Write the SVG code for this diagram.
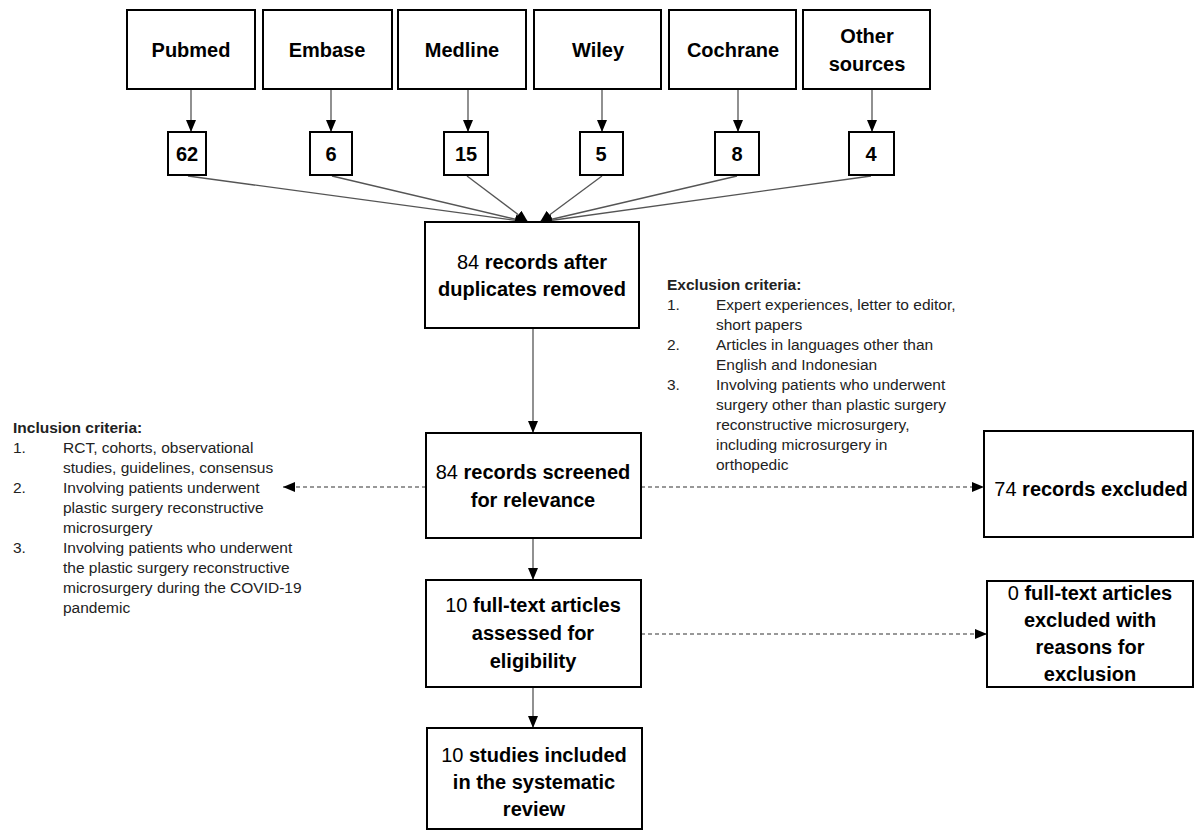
<svg xmlns="http://www.w3.org/2000/svg" width="1197" height="832" viewBox="0 0 1197 832">
<defs>
<style>
.box{fill:#fff;stroke:#000;stroke-width:2}
.t{font-family:"Liberation Sans",Arial,sans-serif;font-size:20px;fill:#000;text-anchor:middle}
.b{font-weight:bold}
.n{font-weight:normal}
.c{font-family:"Liberation Sans",Arial,sans-serif;font-size:15.5px;fill:#222}
.ch{font-weight:bold}
.ln{fill:none;stroke:#555;stroke-width:1.3}
.ds{fill:none;stroke:#333;stroke-width:1.2;stroke-dasharray:4 3}
</style>
<marker id="ah" viewBox="0 0 12 10" refX="12" refY="5" markerWidth="12" markerHeight="10" markerUnits="userSpaceOnUse" orient="auto">
<path d="M0,0 L12,5 L0,10 z" fill="#000"/>
</marker>
</defs>
<rect width="1197" height="832" fill="#fff"/>

<g id="connectors">
<line class="ln" x1="191" y1="89" x2="191" y2="132" marker-end="url(#ah)"/>
<line class="ln" x1="331" y1="89" x2="331" y2="132" marker-end="url(#ah)"/>
<line class="ln" x1="468" y1="89" x2="468" y2="132" marker-end="url(#ah)"/>
<line class="ln" x1="602" y1="89" x2="602" y2="132" marker-end="url(#ah)"/>
<line class="ln" x1="738" y1="89" x2="738" y2="132" marker-end="url(#ah)"/>
<line class="ln" x1="872" y1="89" x2="872" y2="132" marker-end="url(#ah)"/>
<line class="ln" x1="188" y1="176" x2="527" y2="222" marker-end="url(#ah)"/>
<line class="ln" x1="332" y1="176" x2="527" y2="222" marker-end="url(#ah)"/>
<line class="ln" x1="467" y1="176" x2="528" y2="222" marker-end="url(#ah)"/>
<line class="ln" x1="602" y1="176" x2="540" y2="222" marker-end="url(#ah)"/>
<line class="ln" x1="737" y1="176" x2="540" y2="222" marker-end="url(#ah)"/>
<line class="ln" x1="871" y1="176" x2="540" y2="222" marker-end="url(#ah)"/>
<line class="ln" x1="533" y1="328" x2="533" y2="433" marker-end="url(#ah)"/>
<line class="ln" x1="533" y1="538" x2="533" y2="580" marker-end="url(#ah)"/>
<line class="ln" x1="533" y1="687" x2="533" y2="728" marker-end="url(#ah)"/>
<line class="ds" x1="426" y1="487" x2="283" y2="487" marker-end="url(#ah)"/>
<line class="ds" x1="641" y1="487" x2="984" y2="487" marker-end="url(#ah)"/>
<line class="ds" x1="641" y1="634" x2="987" y2="634" marker-end="url(#ah)"/>
</g>

<g id="src-pubmed"><rect class="box" x="127" y="10" width="128" height="79"/><text class="t b" x="191" y="57">Pubmed</text></g>
<g id="src-embase"><rect class="box" x="263" y="10" width="129" height="79"/><text class="t b" x="327" y="57">Embase</text></g>
<g id="src-medline"><rect class="box" x="398" y="10" width="128" height="79"/><text class="t b" x="462" y="57">Medline</text></g>
<g id="src-wiley"><rect class="box" x="534" y="10" width="127" height="79"/><text class="t b" x="598" y="57">Wiley</text></g>
<g id="src-cochrane"><rect class="box" x="669" y="10" width="127" height="79"/><text class="t b" x="733" y="57">Cochrane</text></g>
<g id="src-other"><rect class="box" x="803" y="10" width="127" height="79"/><text class="t b" x="867" y="43">Other</text><text class="t b" x="867" y="71">sources</text></g>

<g id="n-62"><rect class="box" x="168" y="132" width="38" height="43"/><text class="t b" x="187" y="161">62</text></g>
<g id="n-6"><rect class="box" x="310" y="132" width="42" height="43"/><text class="t b" x="331" y="161">6</text></g>
<g id="n-15"><rect class="box" x="444" y="132" width="44" height="43"/><text class="t b" x="466" y="161">15</text></g>
<g id="n-5"><rect class="box" x="580" y="132" width="43" height="43"/><text class="t b" x="601" y="161">5</text></g>
<g id="n-8"><rect class="box" x="715" y="132" width="44" height="43"/><text class="t b" x="737" y="161">8</text></g>
<g id="n-4"><rect class="box" x="849" y="132" width="45" height="43"/><text class="t b" x="871" y="161">4</text></g>

<g id="dedup"><rect class="box" x="425" y="222" width="214" height="106"/>
<text class="t" x="532" y="269"><tspan class="n">84 </tspan><tspan class="b">records after</tspan></text>
<text class="t b" x="532" y="296">duplicates removed</text></g>

<g id="screened"><rect class="box" x="426" y="433" width="215" height="105"/>
<text class="t" x="533" y="479"><tspan class="n">84 </tspan><tspan class="b">records screened</tspan></text>
<text class="t b" x="533" y="507">for relevance</text></g>

<g id="fulltext"><rect class="box" x="426" y="580" width="215" height="107"/>
<text class="t" x="533" y="612"><tspan class="n">10 </tspan><tspan class="b">full-text articles</tspan></text>
<text class="t b" x="533" y="640">assessed for</text>
<text class="t b" x="533" y="668">eligibility</text></g>

<g id="included"><rect class="box" x="427" y="728" width="215" height="101"/>
<text class="t" x="534" y="762"><tspan class="n">10 </tspan><tspan class="b">studies included</tspan></text>
<text class="t b" x="534" y="789">in the systematic</text>
<text class="t b" x="534" y="816">review</text></g>

<g id="excluded-records"><rect class="box" x="984" y="431" width="209" height="106"/>
<text class="t" x="1091" y="496"><tspan class="n">74 </tspan><tspan class="b">records excluded</tspan></text></g>

<g id="excluded-fulltext"><rect class="box" x="987" y="581" width="206" height="106"/>
<text class="t" x="1090" y="600"><tspan class="n">0 </tspan><tspan class="b">full-text articles</tspan></text>
<text class="t b" x="1090" y="627">excluded with</text>
<text class="t b" x="1090" y="654">reasons for</text>
<text class="t b" x="1090" y="681">exclusion</text></g>

<g id="exclusion-criteria">
<text class="c ch" x="667" y="290">Exclusion criteria:</text>
<text class="c" x="667" y="310">1.</text><text class="c" x="716" y="310">Expert experiences, letter to editor,</text>
<text class="c" x="716" y="330">short papers</text>
<text class="c" x="667" y="350">2.</text><text class="c" x="716" y="350">Articles in languages other than</text>
<text class="c" x="716" y="370">English and Indonesian</text>
<text class="c" x="667" y="390">3.</text><text class="c" x="716" y="390">Involving patients who underwent</text>
<text class="c" x="716" y="410">surgery other than plastic surgery</text>
<text class="c" x="716" y="430">reconstructive microsurgery,</text>
<text class="c" x="716" y="450">including microsurgery in</text>
<text class="c" x="716" y="470">orthopedic</text>
</g>

<g id="inclusion-criteria">
<text class="c ch" x="13" y="433">Inclusion criteria:</text>
<text class="c" x="13" y="453">1.</text><text class="c" x="63" y="453">RCT, cohorts, observational</text>
<text class="c" x="63" y="473">studies, guidelines, consensus</text>
<text class="c" x="13" y="493">2.</text><text class="c" x="63" y="493">Involving patients underwent</text>
<text class="c" x="63" y="513">plastic surgery reconstructive</text>
<text class="c" x="63" y="533">microsurgery</text>
<text class="c" x="13" y="553">3.</text><text class="c" x="63" y="553">Involving patients who underwent</text>
<text class="c" x="63" y="573">the plastic surgery reconstructive</text>
<text class="c" x="63" y="593">microsurgery during the COVID-19</text>
<text class="c" x="63" y="613">pandemic</text>
</g>
</svg>
